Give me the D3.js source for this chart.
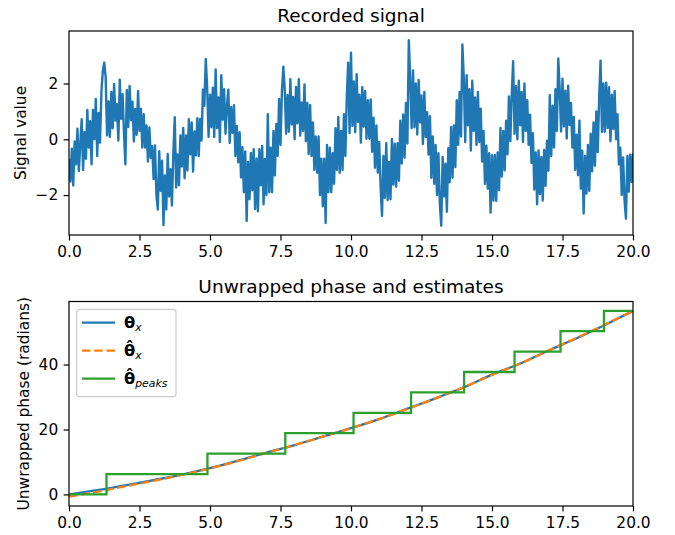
<!DOCTYPE html>
<html>
<head>
<meta charset="utf-8">
<script src="https://cdn.jsdelivr.net/npm/d3@7"></script>
<style>
body { margin: 0; background: #fff; }
text { font-family: "DejaVu Sans", sans-serif; }
</style>
</head>
<body>
<div id="chart"></div>
<script>

// recorded signal, one value every 0.05 s from t = 0
var signalStep = 0.05;
var signalValues = [
    -0.7, -1.52, -0.34, -1.66, -0.08, -0.9, 0.38, -1.14, -0.16, 0.72, -1.1,
    0.25, -0.7, 1.05, -0.3, 0.65, -0.9, 1.05, 0.0, 1.45, -0.6,
    0.94, -0.12, 1.72, 2.46, 2.75, 2.22, 0.14, 1.36, 0.08, 1.7,
    0.39, 1.98, 0.67, 1.26, -0.05, 2.14, 0.73, 1.62, 0.21, -0.9,
    1.77, 0.44, 1.91, 0.68, 1.35, -0.08, 1.09, 0.16, 1.73, 0.3,
    1.1, -0.3, 0.9, -0.3, 0.5, -0.8, 0.42, -0.67, -0.25, -1.43,
    -0.22, -2.0, -2.52, -0.43, -1.85, -0.77, -3.08, -1.3, -2.52, -0.53,
    -2.05, -1.07, -2.38, -0.5, 0.79, -1.73, -0.54, -1.65, 0.14, -0.98,
    0.41, -1.4, 0.14, -1.12, 0.72, -0.54, 0.6, -1.16, 0.28, -0.58,
    0.76, -0.6, 0.73, -0.05, 1.78, 1.2, 2.88, 1.85, 0.08, 1.6,
    0.43, 1.85, 0.08, 2.5, 0.4, 1.5, -0.1, 2.3, 0.7, 1.8,
    0.2, 1.2, 1.78, -0.13, 1.15, 0.23, 1.22, -0.6, 0.48, -0.83,
    0.25, -1.37, -0.28, -1.9, -0.44, -2.93, -0.81, -2.15, -0.49, -1.83,
    -0.36, -2.5, -0.69, -2.58, -0.36, -1.65, -0.24, -2.33, -0.71, -2.0,
    0.9, -1.9, -0.3, -1.9, 0.3, -1.3, 0.55, -0.6, 1.45, -0.2,
    1.7, 2.6, 1.8, 0.2, 1.58, 0.27, 2.15, 0.53, 1.52, 0.0,
    1.88, 0.57, 2.15, 0.13, 1.32, 0.3, 1.97, -0.07, 1.3, -0.53,
    1.23, -0.6, 0.6, -1.1, 0.1, -1.2, 0.1, -2.0, -0.7, -2.4,
    -0.7, -3.0, -0.2, -1.9, -0.3, -1.9, -0.5, -1.6, 0.4, -1.1,
    0.8, -1.2, 0.3, -1.1, 0.9, -0.6, 1.48, 2.75, 0.23, 3.1,
    0.48, 2.07, 0.25, 2.33, 0.62, 1.6, -0.12, 1.87, 0.45, 1.73,
    0.02, 1.4, 0.02, 1.43, -0.45, 0.77, -1.02, 0.5, -1.2, -0.1,
    -1.7, -2.75, -0.6, -2.1, -0.14, -2.18, -0.81, -2.15, 0.01, -1.63,
    -0.16, -1.7, -0.14, -1.49, 0.67, -0.87, 0.89, -0.66, 1.3, -0.15,
    3.55, 2.15, 0.4, 2.47, 0.43, 2.0, 0.17, 2.13, 0.6, 1.57,
    -0.17, 1.7, 0.08, 0.97, -0.55, 0.83, -1.38, 0.1, -1.6, -0.2,
    -2.0, -0.5, -2.3, -3.1, -0.63, -2.05, -0.88, -2.6, -0.32, -1.54,
    0.44, -1.38, 0.5, -1.0, 1.4, -0.2, 1.7, 0.1, 3.4, 2.2,
    -0.1, 2.3, 0.5, 1.8, -0.4, 2.1, 0.3, 1.5, -0.2, 1.7,
    -0.1, 1.1, -0.8, 0.3, -1.6, -0.23, -1.77, -0.5, -2.63, -0.57,
    -2.2, -0.56, -2.21, -0.47, -1.83, 0.41, -1.34, 0.3, -1.11, 0.67,
    -0.54, 1.54, -0.07, 1.61, 2.8, 0.2, 1.9, 0.0, 2.1, 0.5,
    1.7, -0.1, 2.0, 0.3, 1.4, -0.2, 0.88, -0.85, 0.22, -1.8,
    -0.47, -2.33, -0.4, -1.97, -0.63, -2.2, -0.38, -1.67, -0.05, -1.13,
    1.58, -0.6, 1.2, -0.3, 1.8, 0.3, 2.9, 1.79, 0.28, 2.17,
    0.46, 1.74, 0.03, 1.92, 0.51, 1.3, -0.3, 0.8, -1.1, 0.16,
    -1.29, 0.67, -1.77, -0.41, -2.66, -0.6, -1.95, -0.2, -1.85, 0.2,
    -1.15, 0.6, -0.95, 1.0, -0.46, 1.48, 2.82, 0.26, 2.0, 0.27,
    2.03, 0.4, 1.87, -0.07, 1.6, 0.37, 1.73, 0.0, 0.9, -0.9,
    -0.3, -2.0, -0.65, -2.2, -2.85, -0.6, -1.88, -0.55, -1.53, -0.5
];

var phaseTimes = [0, 1, 2, 3, 4, 5, 6, 7, 8, 9, 10, 11, 12, 13, 14, 15, 16, 17, 18, 19, 20];
var phaseTrue = [0.0, 1.3, 2.8, 4.4, 6.1, 8.1, 10.4, 12.9, 15.2, 17.8, 20.4, 23.2, 26.4, 29.6, 33.0, 36.9, 40.3, 44.3, 48.1, 52.2, 56.5];
var phaseEstimate = [-0.7, 0.8, 2.5, 4.2, 6.0, 8.0, 10.3, 12.8, 15.2, 17.8, 20.4, 23.2, 26.3, 29.6, 33.0, 36.8, 40.3, 44.3, 48.2, 52.3, 56.5];

var peakTimes = [0, 1.33, 4.91, 7.67, 10.09, 12.13, 14.01, 15.80, 17.43, 18.97, 20];
var peakPhase = [0, 6.28, 12.57, 18.85, 25.13, 31.42, 37.70, 43.98, 50.27, 56.55, 56.55];

var xTicks = [0, 2.5, 5, 7.5, 10, 12.5, 15, 17.5, 20];
var signalTicks = [-2, 0, 2];
var phaseTicks = [0, 20, 40];

var legendLabels = [
    { hat: false, sub: "x" },
    { hat: true, sub: "x" },
    { hat: true, sub: "peaks" }
];

var width = 675, height = 535;
var left = 69, right = 633;
var fontSize = 15.4;

var svg = d3.select("#chart").append("svg")
    .attr("width", width)
    .attr("height", height);

function padded(ext) {
    var d = (ext[1] - ext[0]) * 0.05;
    return [ext[0] - d, ext[1] + d];
}

function styleAxis(g) {
    g.select(".domain").remove();
    g.attr("font-family", "DejaVu Sans").attr("font-size", fontSize);
    g.selectAll(".tick line").attr("stroke-width", 1.2);
    g.selectAll(".tick text").attr("fill", "#000");
}

function panel(id, top, bottom, yDomain, yTicks, title, label, labelX) {
    var x = d3.scaleLinear().domain([0, 20]).range([left, right]);
    var y = d3.scaleLinear().domain(yDomain).range([bottom, top]);

    svg.append("clipPath")
        .attr("id", id)
        .append("rect")
        .attr("x", left).attr("y", top)
        .attr("width", right - left).attr("height", bottom - top);

    var plot = svg.append("g").attr("clip-path", "url(#" + id + ")");

    svg.append("g")
        .attr("transform", "translate(0," + bottom + ")")
        .call(d3.axisBottom(x).tickValues(xTicks).tickFormat(d3.format(".1f"))
            .tickSize(5.4).tickPadding(5.4).tickSizeOuter(0))
        .call(styleAxis);

    svg.append("g")
        .attr("transform", "translate(" + left + ",0)")
        .call(d3.axisLeft(y).tickValues(yTicks).tickFormat(d3.format("d"))
            .tickSize(5.4).tickPadding(5.4).tickSizeOuter(0))
        .call(styleAxis);

    svg.append("text")
        .attr("x", (left + right) / 2)
        .attr("y", top - 9)
        .attr("text-anchor", "middle")
        .attr("font-size", 18.5)
        .text(title);

    svg.append("text")
        .attr("transform", "translate(" + labelX + "," + (top + bottom) / 2 + ") rotate(-90)")
        .attr("text-anchor", "middle")
        .attr("font-size", fontSize)
        .text(label);

    return { x: x, y: y, plot: plot, top: top, bottom: bottom };
}

function spines(p) {
    svg.append("rect")
        .attr("x", left).attr("y", p.top)
        .attr("width", right - left).attr("height", p.bottom - p.top)
        .attr("fill", "none")
        .attr("stroke", "#000")
        .attr("stroke-width", 1.2);
}

// top panel
var p1 = panel("clip1", 31, 235, padded(d3.extent(signalValues)), signalTicks,
    "Recorded signal", "Signal value", 26);

var signalLine = d3.line()
    .x(function(d, i) { return p1.x(i * signalStep); })
    .y(function(d) { return p1.y(d); });

p1.plot.append("path")
    .datum(signalValues)
    .attr("d", signalLine)
    .attr("fill", "none")
    .attr("stroke", "#1f77b4")
    .attr("stroke-width", 2.4)
    .attr("stroke-linejoin", "round");

spines(p1);

// bottom panel
var allPhase = phaseTrue.concat(phaseEstimate, peakPhase);
var p2 = panel("clip2", 301.5, 506, padded(d3.extent(allPhase)), phaseTicks,
    "Unwrapped phase and estimates", "Unwrapped phase (radians)", 28.5);

function phaseLine(values, curve) {
    return d3.line()
        .curve(curve)
        .x(function(d, i) { return p2.x(phaseTimes[i]); })
        .y(function(d) { return p2.y(d); })(values);
}

p2.plot.append("path")
    .attr("d", phaseLine(phaseTrue, d3.curveMonotoneX))
    .attr("fill", "none")
    .attr("stroke", "#1f77b4")
    .attr("stroke-width", 2.3);

p2.plot.append("path")
    .attr("d", phaseLine(phaseEstimate, d3.curveMonotoneX))
    .attr("fill", "none")
    .attr("stroke", "#ff7f0e")
    .attr("stroke-width", 2.3)
    .attr("stroke-dasharray", "8.5,3.7");

var stepLine = d3.line()
    .curve(d3.curveStepAfter)
    .x(function(d, i) { return p2.x(peakTimes[i]); })
    .y(function(d) { return p2.y(d); });

p2.plot.append("path")
    .datum(peakPhase)
    .attr("d", stepLine)
    .attr("fill", "none")
    .attr("stroke", "#2ca02c")
    .attr("stroke-width", 2.3);

spines(p2);

// legend
var colors = ["#1f77b4", "#ff7f0e", "#2ca02c"];
var legend = svg.append("g");

legend.append("rect")
    .attr("x", 76.7).attr("y", 309.4)
    .attr("width", 99.3).attr("height", 87.3)
    .attr("rx", 3)
    .attr("fill", "#fff")
    .attr("fill-opacity", 0.8)
    .attr("stroke", "#cccccc")
    .attr("stroke-width", 1.2);

legendLabels.forEach(function(d, i) {
    var ry = 322.7 + i * 28;
    legend.append("line")
        .attr("x1", 82).attr("x2", 115)
        .attr("y1", ry).attr("y2", ry)
        .attr("stroke", colors[i])
        .attr("stroke-width", 2.3)
        .attr("stroke-dasharray", i == 1 ? "8.5,3.7" : null);

    var t = legend.append("text")
        .attr("x", 124)
        .attr("y", ry + 5.5)
        .attr("font-size", fontSize + 1);
    t.append("tspan")
        .attr("font-weight", "bold")
        .text(d.hat ? "θ\u0302" : "θ");
    t.append("tspan")
        .attr("font-style", "italic")
        .attr("font-size", 10.8)
        .attr("dy", 2.5)
        .text(d.sub);
});

</script>
</body>
</html>
